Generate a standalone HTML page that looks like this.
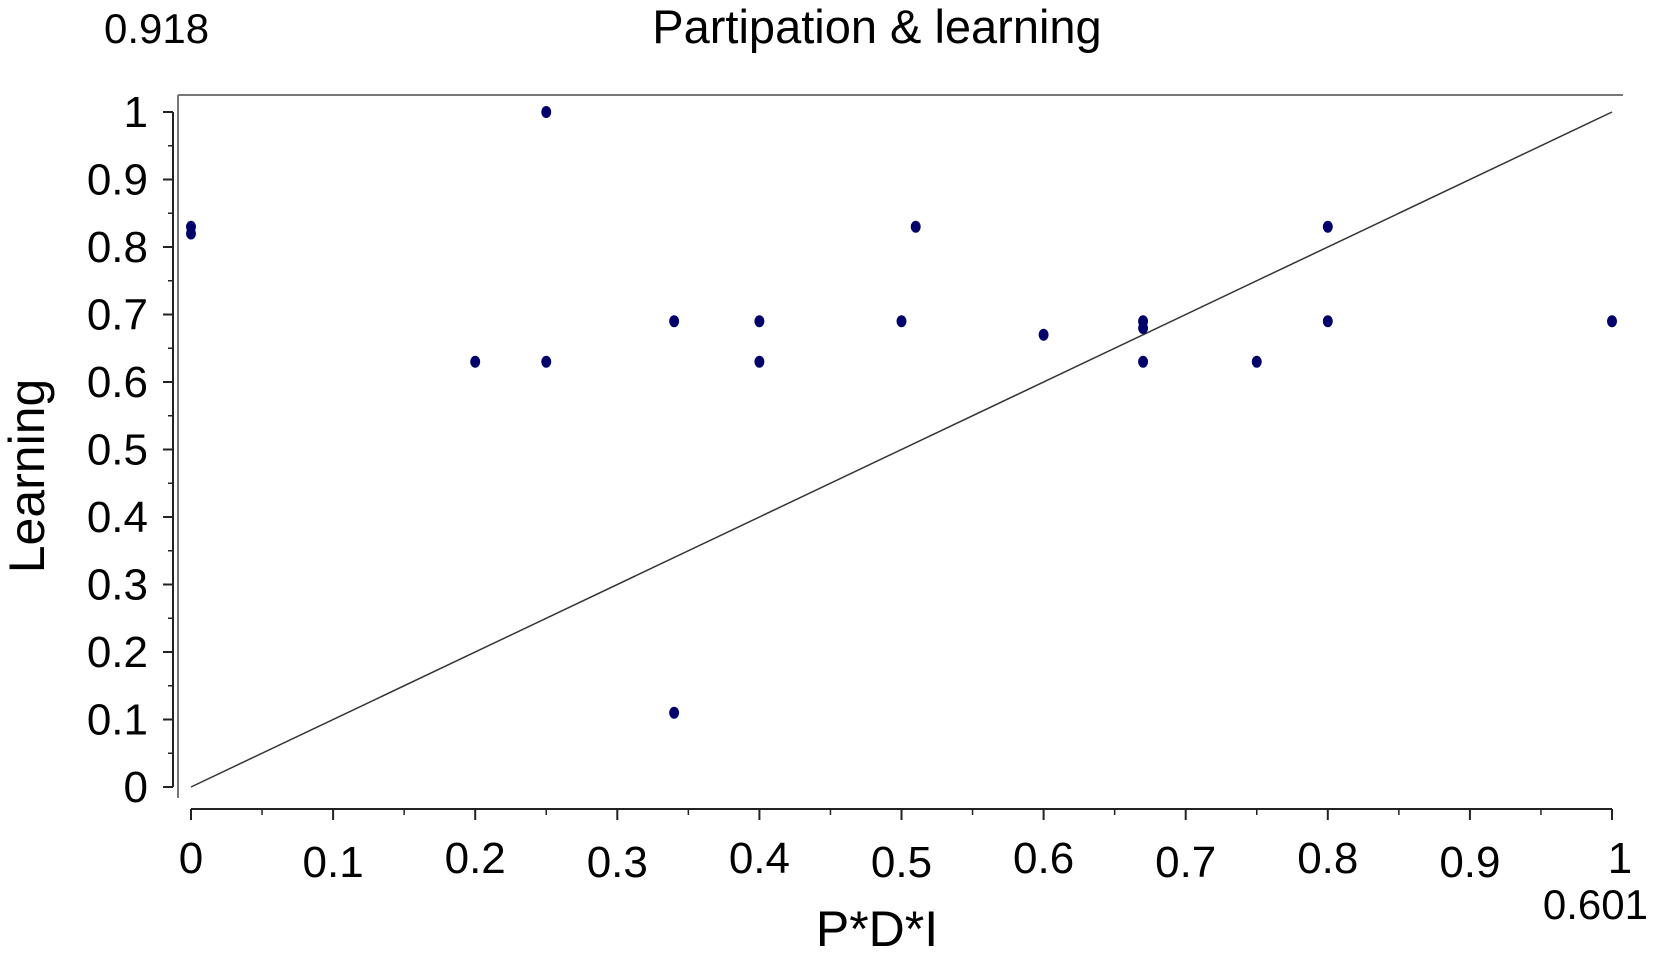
<!DOCTYPE html>
<html><head><meta charset="utf-8"><style>
html,body{margin:0;padding:0;background:#fff;}
svg{display:block;font-family:"Liberation Sans",Arial,sans-serif;}
</style></head><body>
<svg id="chart" width="1653" height="957" viewBox="0 0 1653 957" xmlns="http://www.w3.org/2000/svg">
<text x="104" y="43" font-size="42" fill="#000">0.918</text>
<text x="877" y="43" font-size="47" text-anchor="middle" fill="#000">Partipation &amp; learning</text>
<text x="1648" y="919" font-size="42" text-anchor="end" fill="#000">0.601</text>
<text transform="translate(44,476) rotate(-90)" font-size="50" text-anchor="middle" fill="#000">Learning</text>
<text x="877" y="946" font-size="50" text-anchor="middle" fill="#000">P*D*I</text>
<line x1="178" y1="95" x2="178" y2="798" stroke="#777" stroke-width="2"/>
<line x1="178" y1="95" x2="1623" y2="95" stroke="#777" stroke-width="2"/>
<g id="axes"></g>
<g id="marks"></g>
</svg>
<script>
const xTicks = [0,0.1,0.2,0.3,0.4,0.5,0.6,0.7,0.8,0.9,1];
const yTicks = [0,0.1,0.2,0.3,0.4,0.5,0.6,0.7,0.8,0.9,1];
const xTickLabels = ["0","0.1","0.2","0.3","0.4","0.5","0.6","0.7","0.8","0.9","1"];
const yTickLabels = ["0","0.1","0.2","0.3","0.4","0.5","0.6","0.7","0.8","0.9","1"];
const pdiValues = [0,0,0.2,0.25,0.25,0.34,0.34,0.4,0.4,0.5,0.51,0.6,0.67,0.67,0.67,0.75,0.8,0.8,1];
const learningValues = [0.83,0.82,0.63,1.0,0.63,0.69,0.11,0.69,0.63,0.69,0.83,0.67,0.69,0.68,0.63,0.63,0.83,0.69,0.69];
const refLine = [[0,0],[1,1]];

const X0=191,X1=1612,Y0=787,Y1=112;
function sx(v){return X0+(X1-X0)*v;}
function sy(v){return Y0-(Y0-Y1)*v;}
const NS="http://www.w3.org/2000/svg";
const axes=document.getElementById('axes'), marks=document.getElementById('marks');
function mk(tag,attrs,parent){const e=document.createElementNS(NS,tag);for(const k in attrs)e.setAttribute(k,attrs[k]);parent.appendChild(e);return e;}

let ya=mk('line',{x1:173,y1:sy(0),x2:173,y2:sy(1),stroke:'#222','stroke-width':2},axes);


let xa=mk('line',{x1:sx(0),y1:809,x2:sx(1),y2:809,stroke:'#222','stroke-width':2},axes);



yTicks.forEach((v,i)=>{
  let t=mk('line',{x1:163,y1:sy(v),x2:173,y2:sy(v),stroke:'#222','stroke-width':2},axes);
  
  
  if(i<yTicks.length-1){
    let m=mk('line',{x1:168,y1:sy(v+0.05),x2:173,y2:sy(v+0.05),stroke:'#222','stroke-width':1.5},axes);
    
    
  }
  let l=mk('text',{x:148,y:sy(v)+15,'font-size':44,'text-anchor':'end',fill:'#000'},axes);
  l.textContent=yTickLabels[i];
  
  
});
xTicks.forEach((v,i)=>{
  let t=mk('line',{x1:sx(v),y1:809,x2:sx(v),y2:820,stroke:'#222','stroke-width':2},axes);
  
  
  if(i<xTicks.length-1){
    let m=mk('line',{x1:sx(v+0.05),y1:809,x2:sx(v+0.05),y2:815,stroke:'#222','stroke-width':1.5},axes);
    
    
  }
  let l=mk('text',{x:sx(v)+(i===xTicks.length-1?8:0),y:(i%2===0?873:877),'font-size':44,'text-anchor':'middle',fill:'#000'},axes);
  l.textContent=xTickLabels[i];
  
  
});

let rl=mk('line',{x1:sx(refLine[0][0]),y1:sy(refLine[0][1]),x2:sx(refLine[1][0]),y2:sy(refLine[1][1]),stroke:'#333','stroke-width':1.5},marks);



pdiValues.forEach((v,i)=>{
  let p=mk('ellipse',{cx:sx(v),cy:sy(learningValues[i]),rx:5,ry:6,fill:'#00006b'},marks);
  
  
});
</script>
</body></html>
